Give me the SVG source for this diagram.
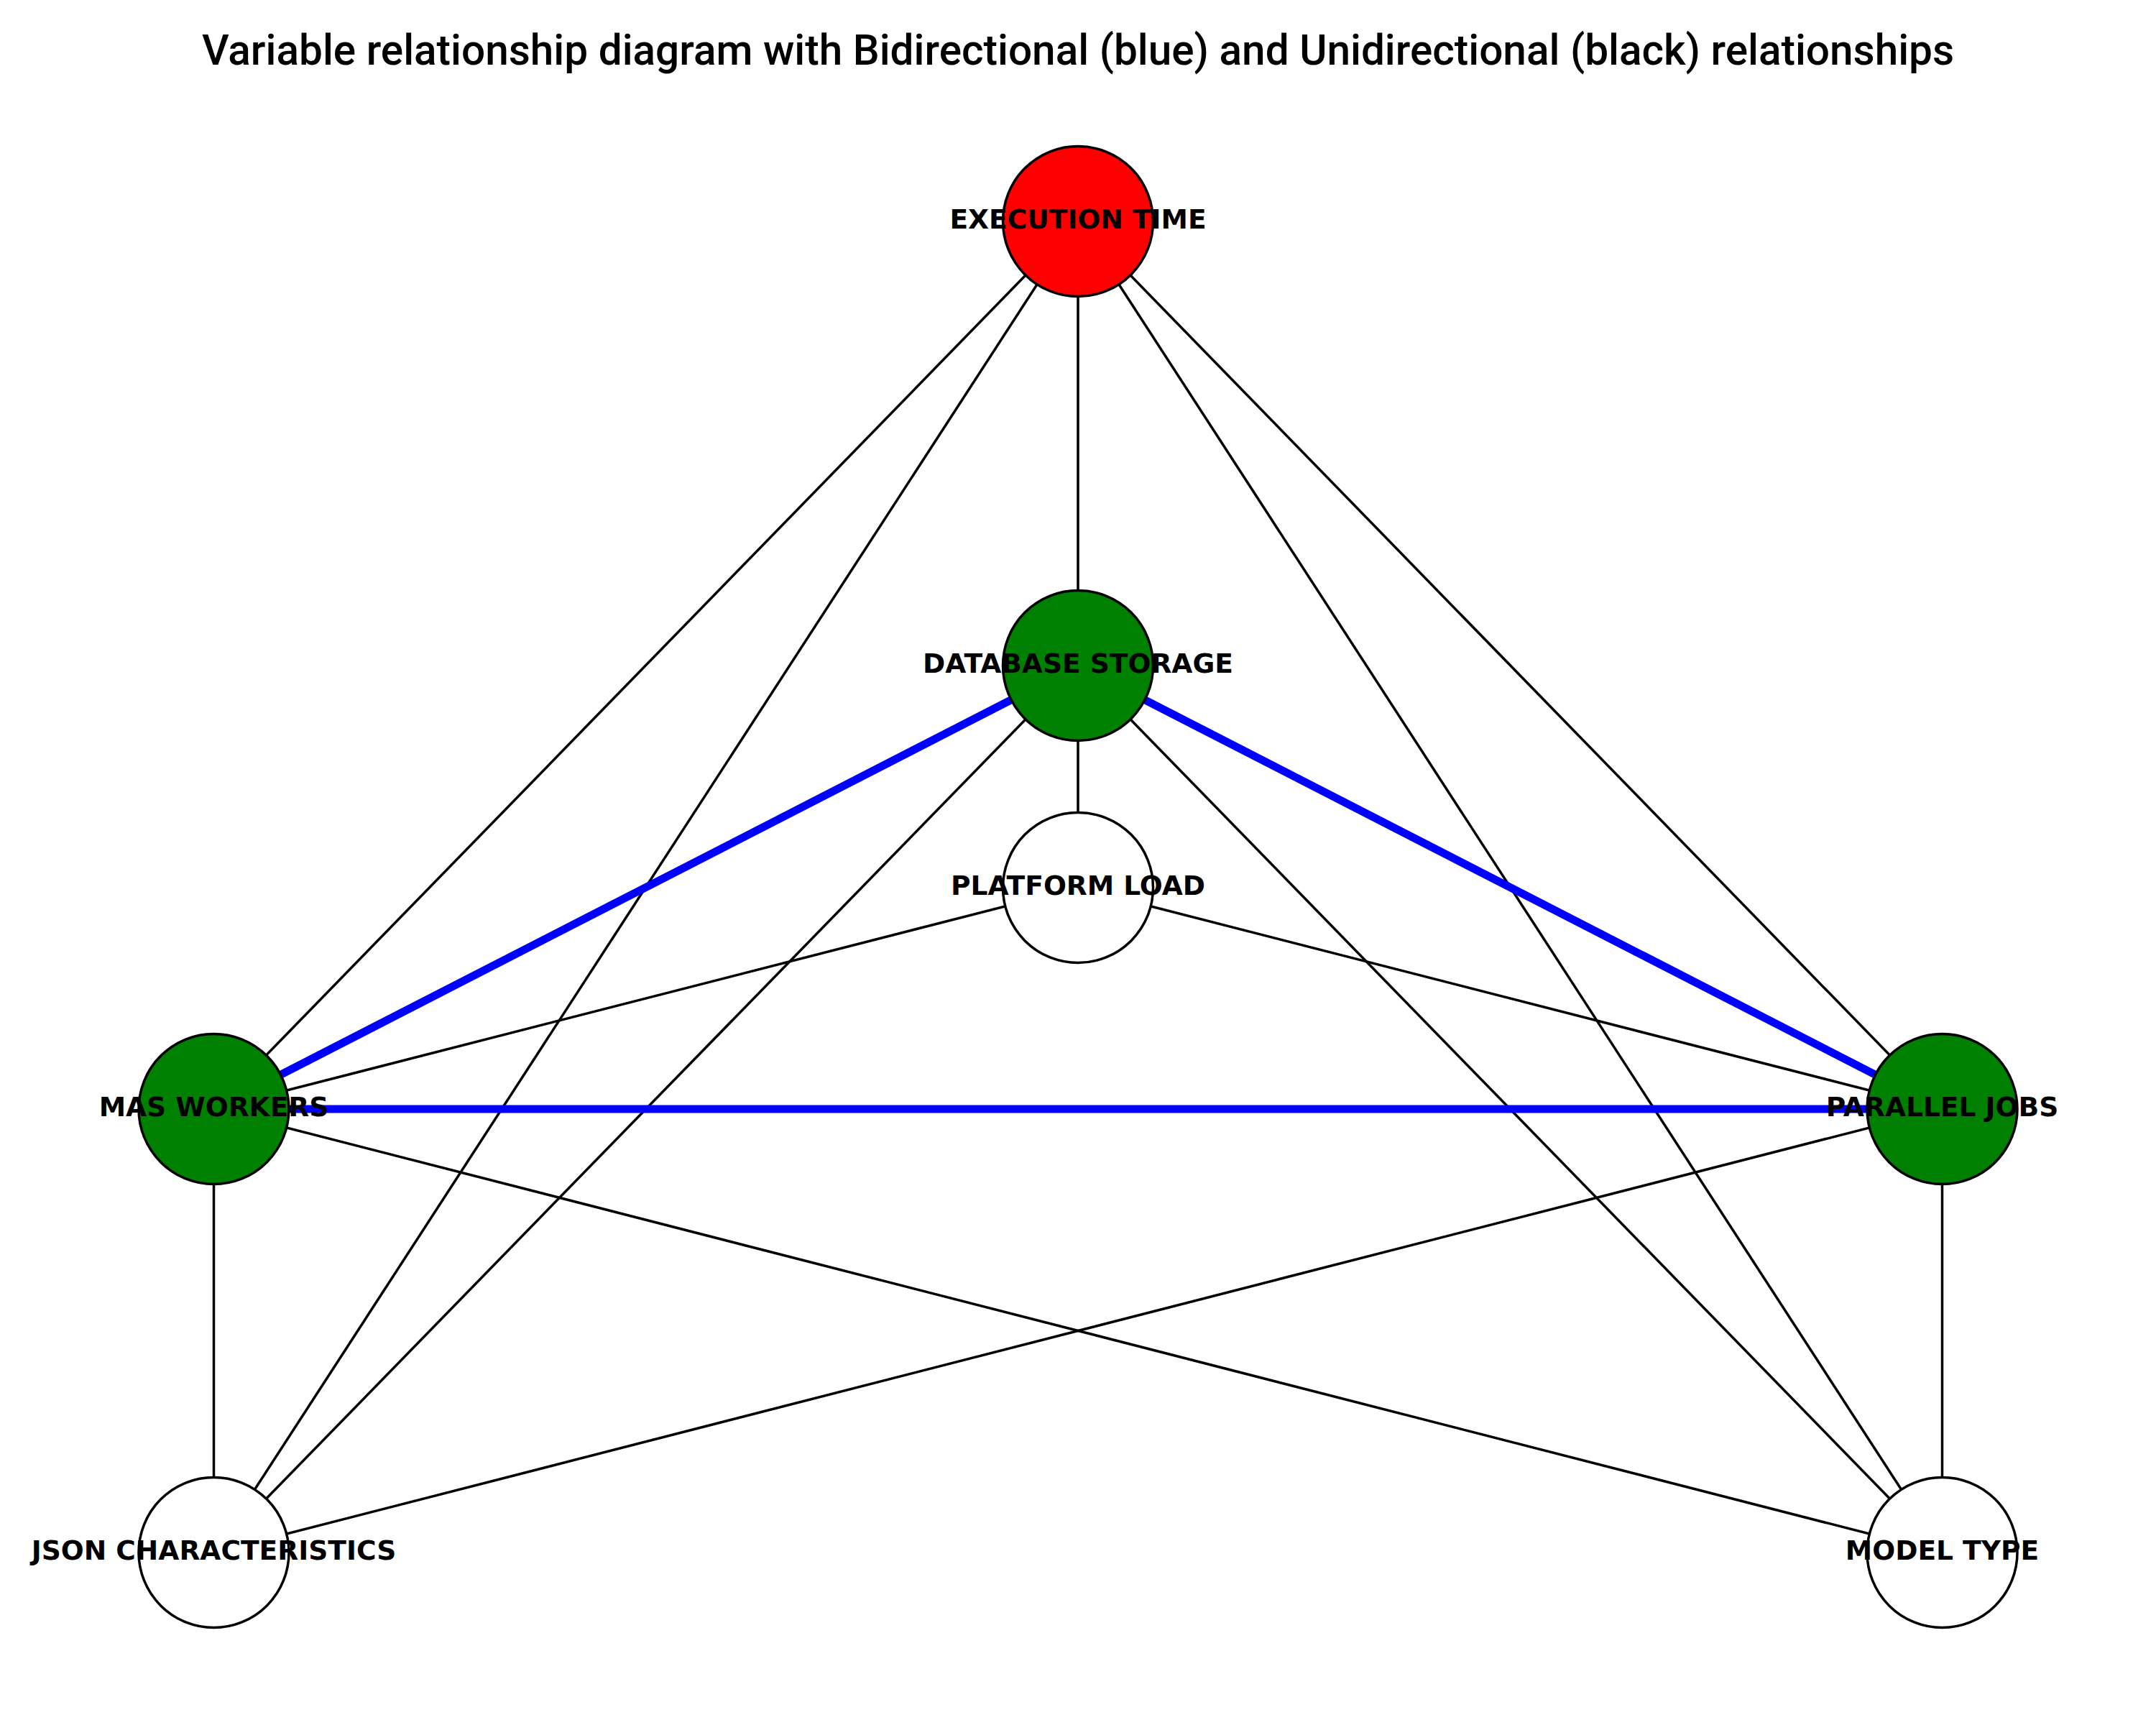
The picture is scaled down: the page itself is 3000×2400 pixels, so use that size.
<svg xmlns="http://www.w3.org/2000/svg" width="3000" height="2400" viewBox="0 0 3000 2400">
<style>
.e{stroke:#000;stroke-width:3.5;fill:none}
.b{stroke:#0000ff;stroke-width:11;fill:none}
.n{stroke:#000;stroke-width:3.5}
.l{font-family:"DejaVu Sans",sans-serif;font-weight:bold;font-size:37.6px;text-anchor:middle;fill:#000}
.t{font-family:Roboto,"Liberation Sans",sans-serif;font-weight:500;font-size:58.5px;text-anchor:middle;fill:#000}
</style>
<rect width="3000" height="2400" fill="#fff"/>
<text class="t" x="1500" y="90">Variable relationship diagram with Bidirectional (blue) and Unidirectional (black) relationships</text>
<g id="connectors">
<line class="e" x1="1500" y1="308" x2="1500" y2="926"/>
<line class="e" x1="1500" y1="308" x2="297.5" y2="1543"/>
<line class="e" x1="1500" y1="308" x2="297.5" y2="2160"/>
<line class="e" x1="1500" y1="308" x2="2702.5" y2="2160"/>
<line class="e" x1="1500" y1="308" x2="2702.5" y2="1543"/>
<line class="e" x1="1500" y1="926" x2="1500" y2="1235"/>
<line class="e" x1="1500" y1="926" x2="297.5" y2="2160"/>
<line class="e" x1="1500" y1="926" x2="2702.5" y2="2160"/>
<line class="e" x1="1500" y1="1235" x2="297.5" y2="1543"/>
<line class="e" x1="1500" y1="1235" x2="2702.5" y2="1543"/>
<line class="e" x1="297.5" y1="1543" x2="297.5" y2="2160"/>
<line class="e" x1="297.5" y1="1543" x2="2702.5" y2="2160"/>
<line class="e" x1="2702.5" y1="1543" x2="297.5" y2="2160"/>
<line class="e" x1="2702.5" y1="1543" x2="2702.5" y2="2160"/>
<line class="b" x1="1500" y1="926" x2="297.5" y2="1543"/>
<line class="b" x1="1500" y1="926" x2="2702.5" y2="1543"/>
<line class="b" x1="297.5" y1="1543" x2="2702.5" y2="1543"/>
</g>
<g id="execution-time"><circle class="n" cx="1500" cy="308" r="104.5" fill="#ff0000"/><text class="l" x="1500" y="318">EXECUTION TIME</text></g>
<g id="database-storage"><circle class="n" cx="1500" cy="926" r="104.5" fill="#008000"/><text class="l" x="1500" y="936">DATABASE STORAGE</text></g>
<g id="platform-load"><circle class="n" cx="1500" cy="1235" r="104.5" fill="#fff"/><text class="l" x="1500" y="1245">PLATFORM LOAD</text></g>
<g id="mas-workers"><circle class="n" cx="297.5" cy="1543" r="104.5" fill="#008000"/><text class="l" x="297.5" y="1553">MAS WORKERS</text></g>
<g id="parallel-jobs"><circle class="n" cx="2702.5" cy="1543" r="104.5" fill="#008000"/><text class="l" x="2702.5" y="1553">PARALLEL JOBS</text></g>
<g id="json-characteristics"><circle class="n" cx="297.5" cy="2160" r="104.5" fill="#fff"/><text class="l" x="297.5" y="2170">JSON CHARACTERISTICS</text></g>
<g id="model-type"><circle class="n" cx="2702.5" cy="2160" r="104.5" fill="#fff"/><text class="l" x="2702.5" y="2170">MODEL TYPE</text></g>
</svg>
